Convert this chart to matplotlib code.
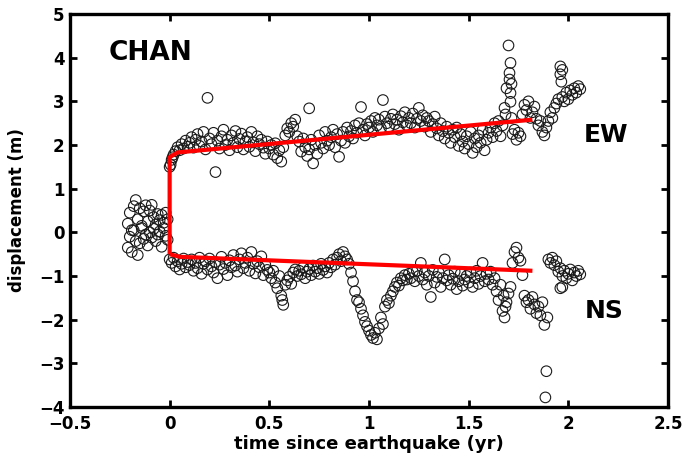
import matplotlib
matplotlib.use("Agg")
import matplotlib.pyplot as plt

# pre-event samples (both components)
t_pre = [-0.21, -0.20, -0.19, -0.18, -0.17, -0.16, -0.15, -0.14, -0.13, -0.12,
         -0.11, -0.10, -0.09, -0.08, -0.07, -0.06, -0.05, -0.04, -0.03, -0.02, -0.01]
ew_pre = [0.20, 0.45, 0.05, 0.60, 0.74, 0.30, 0.55, 0.15, 0.48, 0.62,
          0.25, 0.50, 0.63, 0.35, 0.18, 0.42, 0.28, 0.40, 0.22, 0.45, 0.30]
ns_pre = [-0.35, -0.10, -0.45, 0.05, -0.20, -0.52, -0.25, 0.10, -0.15, -0.05,
          -0.30, 0.00, -0.12, 0.08, -0.20, -0.05, 0.02, -0.33, 0.10, -0.08, -0.17]

t_post = [0.00, 0.01, 0.02, 0.03, 0.04, 0.05, 0.06, 0.07, 0.08, 0.09,
          0.10, 0.11, 0.12, 0.13, 0.14, 0.15, 0.16, 0.17, 0.18, 0.19,
          0.20, 0.21, 0.22, 0.23, 0.24, 0.25, 0.26, 0.27, 0.28, 0.29,
          0.30, 0.31, 0.32, 0.33, 0.34, 0.35, 0.36, 0.37, 0.38, 0.39,
          0.40, 0.41, 0.42, 0.43, 0.44, 0.45, 0.46, 0.47, 0.48, 0.49,
          0.50, 0.51, 0.52, 0.53, 0.54, 0.55, 0.56, 0.57, 0.58, 0.59,
          0.60, 0.61, 0.62, 0.63, 0.64, 0.65, 0.66, 0.67, 0.68, 0.69,
          0.70, 0.71, 0.72, 0.73, 0.74, 0.75, 0.76, 0.77, 0.78, 0.79,
          0.80, 0.81, 0.82, 0.83, 0.84, 0.85, 0.86, 0.87, 0.88, 0.89,
          0.90, 0.91, 0.92, 0.93, 0.94, 0.95, 0.96, 0.97, 0.98, 0.99,
          1.00, 1.01, 1.02, 1.03, 1.04, 1.05, 1.06, 1.07, 1.08, 1.09,
          1.10, 1.11, 1.12, 1.13, 1.14, 1.15, 1.16, 1.17, 1.18, 1.19,
          1.20, 1.21, 1.22, 1.23, 1.24, 1.25, 1.26, 1.27, 1.28, 1.29,
          1.30, 1.31, 1.32, 1.33, 1.34, 1.35, 1.36, 1.37, 1.38, 1.39,
          1.40, 1.41, 1.42, 1.43, 1.44, 1.45, 1.46, 1.47, 1.48, 1.49,
          1.50, 1.51, 1.52, 1.53, 1.54, 1.55, 1.56, 1.57, 1.58, 1.59,
          1.60, 1.61, 1.62, 1.63, 1.64, 1.65, 1.66, 1.67, 1.68, 1.69,
          1.70, 1.71, 1.72, 1.73, 1.74, 1.75, 1.76, 1.77, 1.78, 1.79,
          1.80, 1.81, 1.82, 1.83, 1.84, 1.85, 1.86, 1.87, 1.88, 1.89,
          1.90, 1.91, 1.92, 1.93, 1.94, 1.95, 1.96, 1.97, 1.98, 1.99,
          2.00, 2.01, 2.02, 2.03, 2.04, 2.05, 2.06]

ew_post = [1.50, 1.66, 1.78, 1.86, 1.95, 1.88, 2.02, 1.92, 2.10, 1.96,
           2.05, 2.18, 1.94, 2.12, 2.25, 1.98, 2.08, 2.30, 1.90, 3.08,
           2.15, 2.02, 2.28, 1.38, 2.10, 1.92, 2.20, 2.35, 2.00, 2.12,
           1.88, 2.22, 2.05, 2.32, 1.95, 2.14, 2.26, 1.90, 2.08, 2.18,
           1.96, 2.30, 2.06, 1.86, 2.20, 2.02, 2.12, 1.94, 1.80, 2.08,
           1.92, 2.00, 1.78, 2.04, 1.70, 1.88, 1.62, 1.95, 2.22, 2.38,
           2.30, 2.50, 2.42, 2.58, 2.20, 2.08, 1.85, 2.15, 1.95, 1.75,
           1.90, 2.12, 1.58, 2.00, 1.80, 2.22, 2.05, 1.92, 2.30, 2.10,
           2.00, 2.18, 2.35, 1.95, 2.25, 1.73, 2.10, 2.30, 2.05, 2.40,
           2.20, 2.32, 2.15, 2.45, 2.28, 2.50, 2.87, 2.35, 2.22, 2.48,
           2.40, 2.55, 2.30, 2.62, 2.45, 2.58, 2.38, 3.03, 2.65, 2.50,
           2.42, 2.60, 2.70, 2.48, 2.58, 2.35, 2.66, 2.52, 2.75, 2.45,
           2.62, 2.50, 2.72, 2.40, 2.60, 2.85, 2.55, 2.68, 2.42, 2.62,
           2.55, 2.30, 2.48, 2.65, 2.38, 2.22, 2.50, 2.32, 2.15, 2.42,
           2.28, 2.05, 2.35, 2.18, 2.40, 1.98, 2.25, 2.08, 1.92, 2.20,
           2.02, 2.30, 1.82, 2.15, 1.95, 2.22, 2.05, 2.35, 1.88, 2.12,
           2.28, 2.40, 2.18, 2.50, 2.32, 2.55, 2.20, 2.45, 2.85, 3.30,
           4.28, 3.88, 2.25, 2.35, 2.12, 2.28, 2.20, 2.70, 2.92, 2.80,
           3.00, 2.62, 2.75, 2.88, 2.60, 2.45, 2.55, 2.30, 2.22, 2.40,
           2.55, 2.75, 2.62, 2.85, 2.95, 3.05, 3.80, 3.10, 3.00, 3.20,
           3.05, 3.25, 3.15, 3.30, 3.20, 3.35, 3.28]

ns_post = [-0.62, -0.70, -0.58, -0.78, -0.66, -0.85, -0.72, -0.60, -0.80, -0.68,
           -0.75, -0.62, -0.88, -0.70, -0.82, -0.58, -0.95, -0.72, -0.66, -0.85,
           -0.60, -0.78, -0.92, -0.68, -1.05, -0.74, -0.56, -0.84, -0.70, -0.98,
           -0.64, -0.80, -0.52, -0.76, -0.90, -0.62, -0.48, -0.82, -0.70, -0.58,
           -0.88, -0.45, -0.72, -0.94, -0.66, -0.80, -0.55, -0.98, -0.74, -0.86,
           -0.92, -1.05, -0.88, -1.15, -1.28, -1.00, -1.45, -1.66, -1.20, -1.10,
           -1.02, -1.18, -0.92, -0.85, -1.00, -0.88, -0.96, -0.80, -1.05, -0.90,
           -0.84, -0.98, -0.76, -0.90, -0.82, -0.95, -0.72, -0.86, -0.78, -0.92,
           -0.70, -0.80, -0.62, -0.74, -0.58, -0.50, -0.66, -0.45, -0.55, -0.62,
           -0.72, -0.92, -1.12, -1.35, -1.55, -1.60, -1.75, -1.90, -2.05, -2.15,
           -2.25, -2.35, -2.42, -2.30, -2.45, -2.20, -1.95, -2.10, -1.70, -1.55,
           -1.62, -1.45, -1.35, -1.25, -1.15, -1.22, -1.05, -1.10, -0.98, -1.08,
           -0.95, -1.05, -0.90, -1.12, -0.88, -1.00, -0.70, -1.08, -0.92, -1.20,
           -1.00, -1.48, -0.86, -1.15, -1.02, -0.92, -1.25, -1.05, -0.62, -1.10,
           -0.98, -1.20, -1.06, -0.90, -1.30, -1.12, -0.95, -1.22, -1.08, -1.00,
           -1.15, -0.92, -1.25, -1.05, -0.88, -1.18, -1.00, -0.70, -1.12, -0.95,
           -1.08, -0.90, -1.20, -1.05, -1.35, -1.55, -1.20, -1.80, -1.95, -1.60,
           -1.40, -1.25, -0.70, -0.45, -0.35, -0.58, -0.65, -0.98, -1.45, -1.60,
           -1.55, -1.75, -1.48, -1.65, -1.85, -1.70, -1.90, -1.60, -2.12, -3.18,
           -0.62, -0.70, -0.58, -0.75, -0.66, -0.90, -0.82, -1.00, -0.88, -1.05,
           -0.95, -0.85, -1.10, -0.92, -1.00, -0.88, -0.96]

# extra sub-daily / outlier samples
t_ew_extra = [0.005, 0.015, 0.70, 1.685, 1.705, 1.705, 1.71, 1.71, 1.715, 1.715, 1.96, 1.965, 1.97]
ew_extra = [1.55, 1.72, 2.84, 2.70, 3.65, 3.50, 3.19, 2.99, 3.40, 2.62, 3.62, 3.45, 3.72]
t_ns_extra = [0.565, 1.675, 1.685, 1.885, 1.895, 1.96, 1.97]
ns_extra = [-1.55, -1.45, -1.70, -3.78, -1.95, -1.28, -1.25]

# fitted model (red)
fit_t = [0.0, 0.0, 0.04, 1.82]
fit_ew = [-0.50, 1.72, 1.83, 2.58]
fit_ns_t = [0.0, 0.05, 1.82]
fit_ns = [-0.50, -0.56, -0.88]

xticks = [-0.5, 0, 0.5, 1, 1.5, 2, 2.5]
xticklabels = ["\u22120.5", "0", "0.5", "1", "1.5", "2", "2.5"]
yticks = [-4, -3, -2, -1, 0, 1, 2, 3, 4, 5]
yticklabels = ["\u22124", "\u22123", "\u22122", "\u22121", "0", "1", "2", "3", "4", "5"]

plt.rcParams['font.family'] = ['DejaVu Sans']
plt.rcParams['font.weight'] = 'bold'

fig = plt.figure(figsize=(6.88, 4.61), dpi=100)
ax = fig.add_axes([0.1017, 0.1171, 0.8692, 0.8525])

mk = dict(s=58, facecolors='none', edgecolors='#1a1a1a', linewidths=0.8, zorder=2)
ax.scatter(t_pre, ew_pre, **mk)
ax.scatter(t_pre, ns_pre, **mk)
ax.scatter(t_post, ew_post, **mk)
ax.scatter(t_post, ns_post, **mk)
ax.scatter(t_ew_extra, ew_extra, **mk)
ax.scatter(t_ns_extra, ns_extra, **mk)

ax.plot(fit_t, fit_ew, color='red', lw=3, zorder=3, solid_capstyle='butt')
ax.plot(fit_ns_t, fit_ns, color='red', lw=3, zorder=3, solid_capstyle='butt')

ax.set_xlim(-0.5, 2.5)
ax.set_ylim(-4, 5)
ax.set_xticks(xticks)
ax.set_xticklabels(xticklabels)
ax.set_yticks(yticks)
ax.set_yticklabels(yticklabels)
ax.tick_params(direction='in', length=5, width=2, top=True, right=True,
               labelsize=12)
ax.tick_params(axis='x', pad=6)
ax.tick_params(axis='y', pad=4)
for sp in ax.spines.values():
    sp.set_linewidth(2.4)

ax.set_xlabel('time since earthquake (yr)', fontsize=13, fontweight='bold', labelpad=1)
ax.set_ylabel('displacement (m)', fontsize=12, fontweight='bold', labelpad=9)

ax.text(-0.095, 4.1, 'CHAN', fontsize=19, fontweight='bold',
        ha='center', va='center')
ax.text(2.19, 2.23, 'EW', fontsize=18, fontweight='bold',
        ha='center', va='center')
ax.text(2.18, -1.8, 'NS', fontsize=18, fontweight='bold',
        ha='center', va='center')

fig.savefig('out.png', dpi=100)
